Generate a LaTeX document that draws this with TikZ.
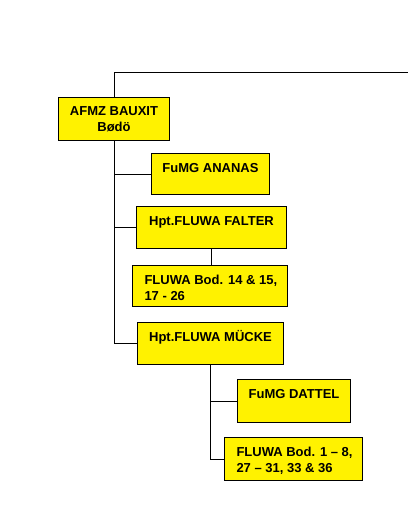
\documentclass[tikz,border=0pt]{standalone}
\usepackage{fontspec}
\setmainfont{Liberation Sans}
\newcommand{\cbox}[3]{\parbox[t][#2][t]{#1}{\centering\rule{0pt}{18.5pt}#3}}
\newcommand{\lbox}[3]{\parbox[t][#2][t]{#1}{\leftskip=12pt\rule{0pt}{18.5pt}#3}}
\tikzset{
    orgbox/.style={draw,fill=yellow,line width=1pt,inner sep=0pt,anchor=north west,
        font=\fontsize{13}{16}\selectfont\bfseries},
    link/.style={line width=1pt}
}
\begin{document}
\begin{tikzpicture}[x=1pt,y=-1pt]
\useasboundingbox (0,0) rectangle (408,513);
\coordinate (edge) at (408,73);
\node[orgbox] (bauxit) at (58,97) {\cbox{111pt}{43pt}{AFMZ BAUXIT\\Bødö}};
\node[orgbox] (ananas) at (151,153) {\cbox{118pt}{41pt}{FuMG ANANAS}};
\node[orgbox] (falter) at (136,206) {\cbox{150pt}{42pt}{Hpt.FLUWA FALTER}};
\node[orgbox] (bod14) at (132,265) {\lbox{155pt}{41pt}{FLUWA Bod. 14 \& 15,\\17 - 26}};
\node[orgbox] (muecke) at (137,322) {\cbox{146pt}{42pt}{Hpt.FLUWA MÜCKE}};
\node[orgbox] (dattel) at (237,379) {\cbox{113pt}{43pt}{FuMG DATTEL}};
\node[orgbox] (bod1) at (224,437) {\lbox{138pt}{43pt}{FLUWA Bod. 1 – 8,\\27 – 31, 33 \& 36}};
\draw[link] (bauxit.north) |- (edge);
\draw[link] (bauxit.south) |- (muecke.west);
\draw[link] (bauxit.south) |- (ananas.west);
\draw[link] (bauxit.south) |- (falter.west);
\draw[link] (falter.south) -- (falter.south |- bod14.north);
\draw[link] (muecke.south) |- (dattel.west);
\draw[link] (muecke.south) |- (bod1.west);
\end{tikzpicture}
\end{document}
